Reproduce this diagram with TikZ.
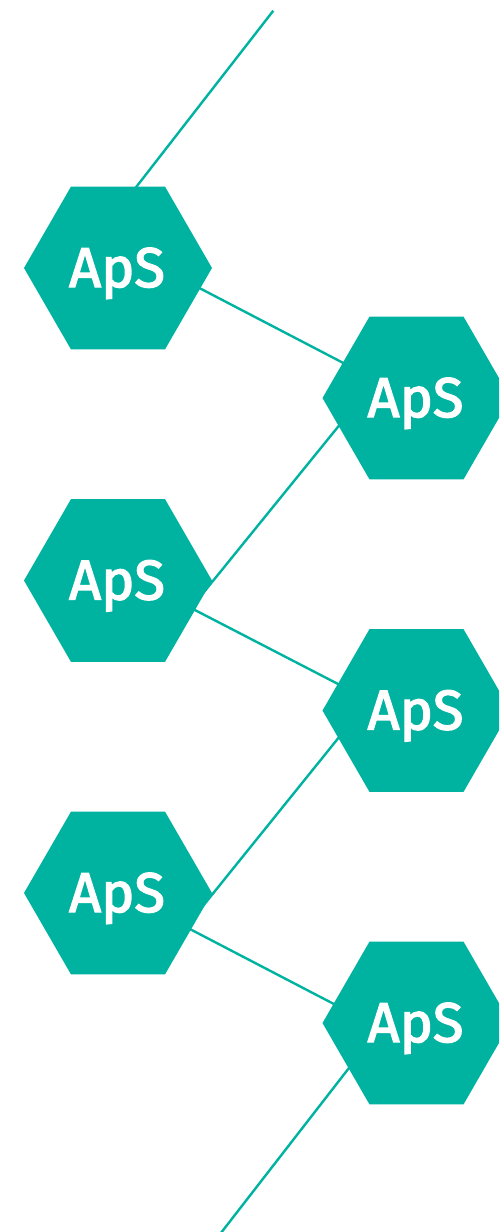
\documentclass[tikz,border=0pt]{standalone}
\usepackage{fontspec}
\setmainfont{Fira Sans}
\newfontfamily\labelfont{Fira Sans}[FakeBold=2.5]
\usetikzlibrary{shapes.geometric}
\definecolor{teal1}{HTML}{00B3A1}
\begin{document}
\begin{tikzpicture}[x=1pt,y=-1pt,
  hex/.style={regular polygon, regular polygon sides=6, minimum size=188pt,
    inner sep=0pt, outer sep=0pt, fill=teal1, draw=none},
  lbl/.style={text=white, font=\labelfont\fontsize{56}{56}\selectfont,
    anchor=base, inner sep=0pt, yshift=-19pt, xshift=-1pt},
  link/.style={draw=teal1, line width=2.4pt}]
\useasboundingbox (0,0) rectangle (499,1232);
\clip (0,0) rectangle (499,1232);
% zigzag connector points
\coordinate (j0) at (273.3,10.7);
\coordinate (j1) at (98.5,235.5);
\coordinate (j2) at (376,380);
\coordinate (j3) at (191,608);
\coordinate (j4) at (369,700);
\coordinate (j5) at (186,927);
\coordinate (j6) at (380,1028);
\coordinate (j7) at (207.7,1250);
\draw[link] (j0) -- (j1) -- (j2) -- (j3) -- (j4) -- (j5) -- (j6) -- (j7);
% hexagons
\node[hex] (h1) at (118,268) {};
\node[hex] (h2) at (416.5,398) {};
\node[hex] (h3) at (118,580.5) {};
\node[hex] (h4) at (416.5,710.5) {};
\node[hex] (h5) at (118,893) {};
\node[hex] (h6) at (416.5,1023) {};
\node[lbl] (t1) at (h1.center) {ApS};
\node[lbl] (t2) at (h2.center) {ApS};
\node[lbl] (t3) at (h3.center) {ApS};
\node[lbl] (t4) at (h4.center) {ApS};
\node[lbl] (t5) at (h5.center) {ApS};
\node[lbl] (t6) at (h6.center) {ApS};
\end{tikzpicture}
\end{document}
